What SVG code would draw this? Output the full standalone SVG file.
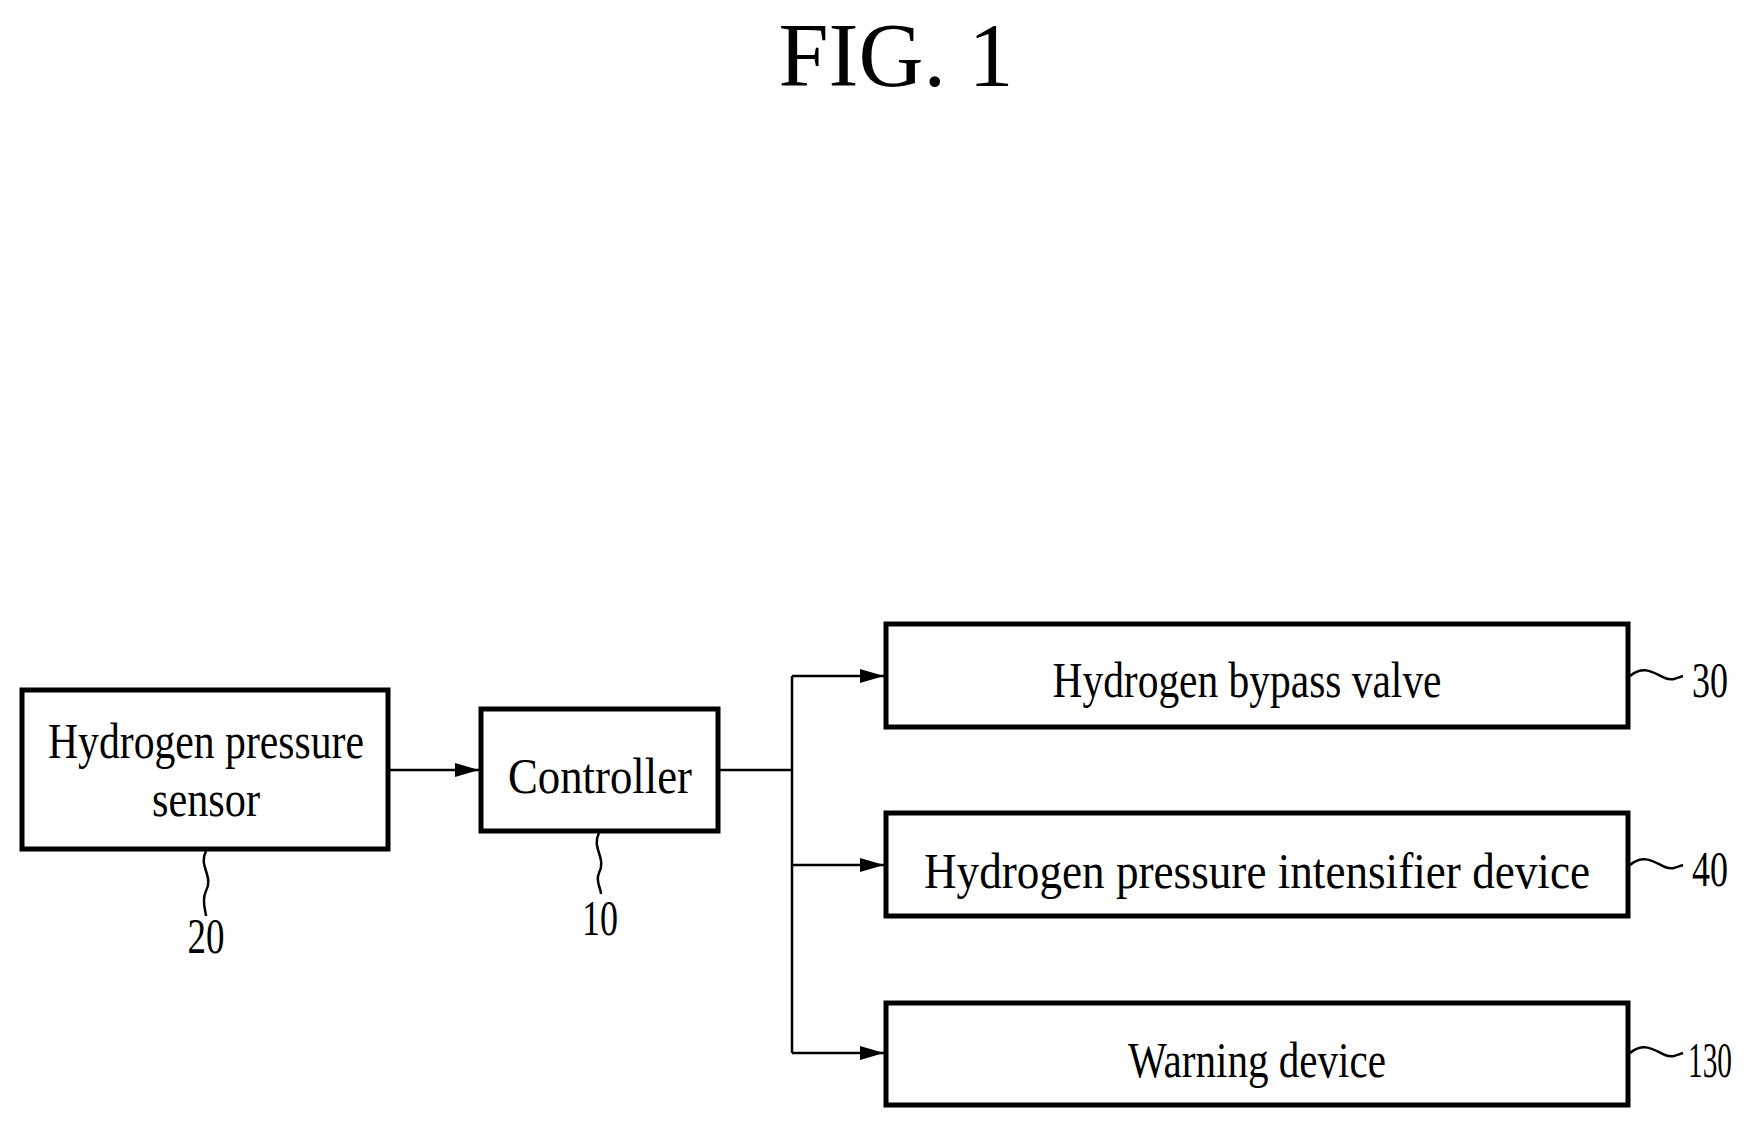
<svg xmlns="http://www.w3.org/2000/svg" width="1754" height="1123" viewBox="0 0 1754 1123">
<style>
.box{fill:#fff;stroke:#000;stroke-width:5}
.ln{fill:none;stroke:#000;stroke-width:2.5}
.t{font-family:"Liberation Serif",serif;font-size:50px;fill:#000;text-anchor:middle}
</style>
<defs>
<marker id="b" markerWidth="24" markerHeight="14" refX="24" refY="7" orient="auto" markerUnits="userSpaceOnUse"><path d="M0,0L24,7L0,14z"/></marker></defs>
<rect width="1754" height="1123" fill="#fff"/>
<text x="896" y="86" font-family="Liberation Serif,serif" font-size="90" text-anchor="middle">FIG. 1</text>
<g id="connectors">
<path class="ln" d="M388,770H479" marker-end="url(#b)"/>
<path class="ln" d="M718,770H792M792,676V1053"/>
<path class="ln" d="M792,676H884" marker-end="url(#b)"/>
<path class="ln" d="M792,865H884" marker-end="url(#b)"/>
<path class="ln" d="M792,1053H884" marker-end="url(#b)"/>
</g>
<g id="sensor"><rect class="box" x="22" y="690" width="366" height="159"/>
<text class="t" x="206" y="758" textLength="316" lengthAdjust="spacingAndGlyphs">Hydrogen pressure</text>
<text class="t" x="206" y="816" textLength="108" lengthAdjust="spacingAndGlyphs">sensor</text>
<path class="ln" d="M206,851c-8,15 8,25 0,40c-5,10 0,20 0,25"/>
<text class="t" x="206" y="953" textLength="37" lengthAdjust="spacingAndGlyphs">20</text></g>
<g id="controller"><rect class="box" x="481" y="709" width="237" height="122"/>
<text class="t" x="600" y="793" textLength="184" lengthAdjust="spacingAndGlyphs">Controller</text>
<path class="ln" d="M599,833c-8,15 8,25 0,40c-4,8 2,15 2,21"/>
<text class="t" x="600" y="935" textLength="36" lengthAdjust="spacingAndGlyphs">10</text></g>
<g id="valve"><rect class="box" x="886" y="624" width="742" height="103"/>
<text class="t" x="1247" y="697" textLength="389" lengthAdjust="spacingAndGlyphs">Hydrogen bypass valve</text>
<path class="ln" d="M1630,676c15,-12 25,-2 35,2c8,3 12,0 18,-2"/>
<text class="t" x="1710" y="697" textLength="36" lengthAdjust="spacingAndGlyphs">30</text></g>
<g id="intensifier"><rect class="box" x="886" y="813" width="742" height="103"/>
<text class="t" x="1257" y="888" textLength="666" lengthAdjust="spacingAndGlyphs">Hydrogen pressure intensifier device</text>
<path class="ln" d="M1630,865c15,-12 25,-2 35,2c8,3 12,0 18,-2"/>
<text class="t" x="1710" y="886" textLength="36" lengthAdjust="spacingAndGlyphs">40</text></g>
<g id="warning"><rect class="box" x="886" y="1003" width="742" height="102"/>
<text class="t" x="1710" y="1077" textLength="44" lengthAdjust="spacingAndGlyphs">130</text>
<text class="t" x="1257" y="1077" textLength="258" lengthAdjust="spacingAndGlyphs">Warning device</text>
<path class="ln" d="M1630,1053c15,-12 25,-2 35,2c8,3 12,0 18,-2"/></g>
</svg>
